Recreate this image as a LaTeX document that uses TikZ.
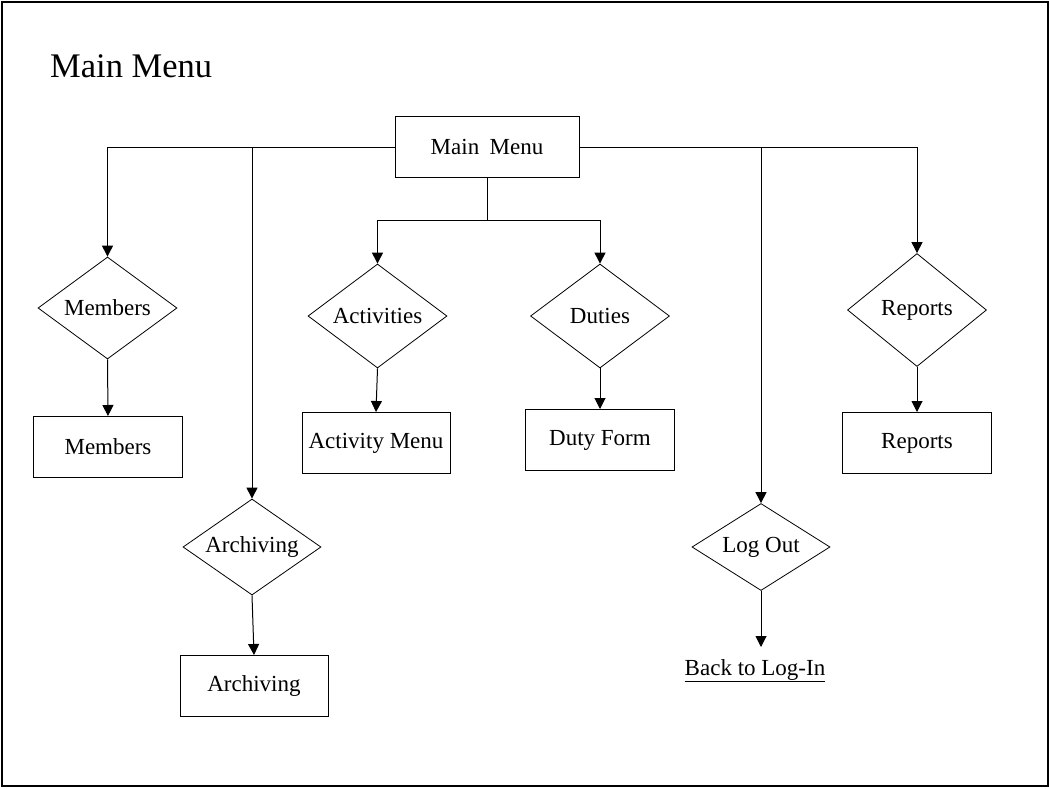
\documentclass[tikz,border=0pt]{standalone}
\usepackage{fontspec}
\setmainfont{Liberation Serif}
\usetikzlibrary{shapes.geometric,arrows.meta}
\begin{document}
\begin{tikzpicture}[x=1pt,y=-1pt,
  every node/.style={font=\fontsize{23}{27}\selectfont, inner sep=0pt},
  box/.style={draw, line width=1pt, rectangle, minimum width=149pt, minimum height=61pt},
  dec/.style={draw, line width=0.8pt, diamond, aspect=1.35},
  conn/.style={line width=1pt},
  arr/.style={conn, -{Triangle[width=11pt,length=11pt]}}]
\useasboundingbox (0,0) rectangle (1050,788);
\draw[line width=2.2pt] (2,2) rectangle (1048,786);
\node[anchor=base west, font=\fontsize{34.5}{40}\selectfont] (title) at (50,77) {Main Menu};
\node[box, minimum width=184pt] (mm) at (487,147) {Main\hspace{0.2em} Menu};
% diamonds
\node[dec, minimum width=139pt, minimum height=102pt] (dmem) at (107.5,308) {Members};
\node[dec, minimum width=138pt, minimum height=96pt] (darc) at (252,547) {Archiving};
\node[dec, minimum width=139pt, minimum height=104pt] (dact) at (377.5,316) {Activities};
\node[dec, minimum width=139pt, minimum height=104pt] (ddut) at (600,316) {Duties};
\node[dec, minimum width=139pt, minimum height=113pt] (drep) at (917,310) {Reports};
\node[dec, minimum width=138pt, minimum height=87pt] (dlog) at (761,547) {Log Out};
% boxes
\node[box] (bmem) at (108,447) {Members};
\node[box, minimum width=148pt] (barc) at (254,686) {Archiving};
\node[box, minimum width=148pt] (bact) at (376,443) {Activity Menu};
\node[box] (bdut) at (600,440) {Duty Form};
\node[box] (brep) at (917,443) {Reports};
\node[anchor=base] (btl) at (755,675) {\underline{Back to Log-In}};
\coordinate (bus) at (487,220.7);
\coordinate (logend) at (761,647);
% connectors
\draw[arr] (mm.west) -| (dmem.north);
\draw[arr] (mm.west -| darc.north) -- (darc.north);
\draw[arr] (mm.east) -| (drep.north);
\draw[arr] (mm.east -| dlog.north) -- (dlog.north);
\draw[conn] (mm.south) -- (bus);
\draw[arr] (bus) -| (dact.north);
\draw[arr] (bus) -| (ddut.north);
\draw[arr] (dmem.south) -- (bmem.north);
\draw[arr] (darc.south) -- (barc.north);
\draw[arr] (dact.south) -- (bact.north);
\draw[arr] (ddut.south) -- (bdut.north);
\draw[arr] (drep.south) -- (brep.north);
\draw[arr] (dlog.south) -- (logend);
\end{tikzpicture}
\end{document}
